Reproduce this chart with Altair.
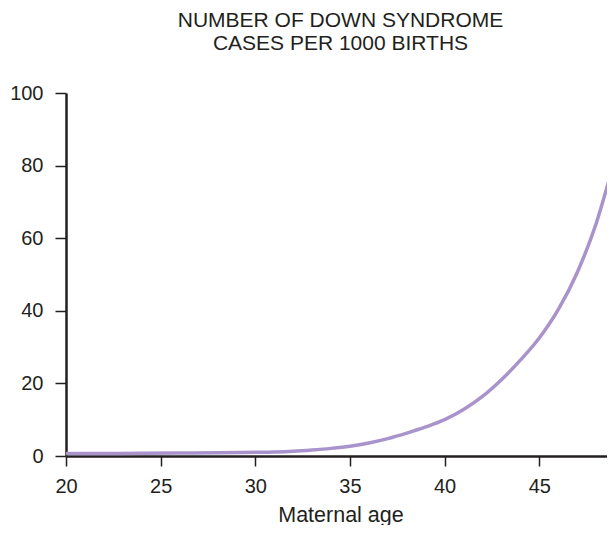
import altair as alt
import pandas as pd

ages = [20, 22, 24, 26, 28, 30, 31, 32, 33, 34, 35, 36, 37, 38, 39, 40, 41, 42, 43, 44, 45, 46, 47, 48, 49]
cases = [0.7, 0.7, 0.75, 0.8, 0.9, 1.0, 1.1, 1.3, 1.65, 2.1, 2.7, 3.6, 4.8, 6.3, 8.0, 10.0, 12.8, 16.4, 21.0, 26.4, 32.5, 40.3, 50.5, 64.0, 82.0]
x_ticks = [20, 25, 30, 35, 40, 45]
y_ticks = [0, 20, 40, 60, 80, 100]
title_lines = ["NUMBER OF DOWN SYNDROME", "CASES PER 1000 BIRTHS"]
x_title = "Maternal age"

df = pd.DataFrame({"age": ages, "cases": cases})

FONT = "Liberation Sans"
INK = "#231f20"

chart = (
    alt.Chart(df)
    .mark_line(color="#a993cc", strokeWidth=3.5, interpolate="monotone")
    .encode(
        x=alt.X(
            "age:Q",
            scale=alt.Scale(domain=[20, 49], nice=False, zero=False),
            axis=alt.Axis(
                values=x_ticks,
                title=x_title,
                grid=False,
                tickSize=10,
                tickWidth=1.5,
                domainWidth=2.5,
                labelPadding=10,
                labelFlush=False,
                titlePadding=8,
            ),
        ),
        y=alt.Y(
            "cases:Q",
            scale=alt.Scale(domain=[0, 100], nice=False),
            axis=alt.Axis(
                values=y_ticks,
                title=None,
                grid=False,
                tickSize=11,
                tickWidth=1.5,
                domainWidth=2.5,
                labelPadding=12,
                labelFlush=False,
            ),
        ),
    )
    .properties(
        width=549,
        height=363,
        padding={"left": 58, "top": 85, "right": -8, "bottom": 69},
        autosize=alt.AutoSizeParams(type="none"),
        title=alt.TitleParams(
            text=title_lines,
            anchor="middle",
            frame="group",
            fontSize=21,
            font=FONT,
            fontWeight="normal",
            color=INK,
            lineHeight=23.5,
            offset=29,
        ),
    )
    .configure_view(stroke=None)
    .configure_axis(
        labelFont=FONT,
        titleFont=FONT,
        labelFontSize=20,
        titleFontSize=21.5,
        titleFontWeight="normal",
        labelColor=INK,
        titleColor=INK,
        domainColor=INK,
        tickColor=INK,
    )
)

chart.save("out.html", embed_options={"renderer": "svg", "actions": False})
